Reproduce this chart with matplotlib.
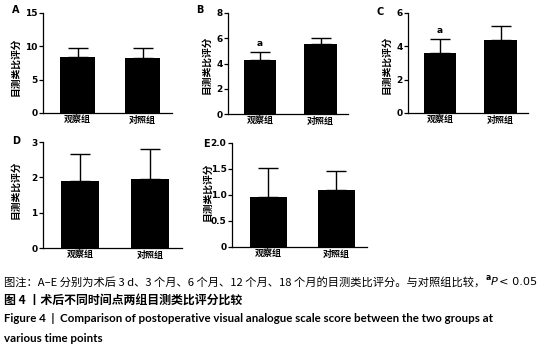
import matplotlib
matplotlib.use("Agg")
import matplotlib.pyplot as plt

plt.rcParams['font.family'] = ['Noto Sans CJK SC', 'DejaVu Sans']

groups = ['观察组', '对照组']
panels = ['A', 'B', 'C', 'D', 'E']
means = {
    'A': [8.4, 8.25],
    'B': [4.29, 5.56],
    'C': [3.6, 4.38],
    'D': [1.9, 1.96],
    'E': [0.97, 1.10],
}
sds = {
    'A': [1.35, 1.5],
    'B': [0.61, 0.45],
    'C': [0.84, 0.86],
    'D': [0.76, 0.85],
    'E': [0.54, 0.36],
}
ymax = {'A': 15, 'B': 8, 'C': 6, 'D': 3, 'E': 2.0}
yticks = {
    'A': [0, 5, 10, 15],
    'B': [0, 2, 4, 6, 8],
    'C': [0, 2, 4, 6],
    'D': [0, 1, 2, 3],
    'E': [0, 0.5, 1.0, 1.5, 2.0],
}
ytick_labels = {
    'E': ['0', '0.5', '1.0', '1.5', '2.0'],
}
sig_marks = {'B': ['a', ''], 'C': ['a', '']}

W, H = 555, 352
fig = plt.figure(figsize=(W / 100, H / 100), dpi=100)

# pixel boxes: left, right, top, bottom
boxes = {
    'A': (43, 172, 13, 113),
    'B': (228, 348, 13, 114),
    'C': (408, 528, 13, 113),
    'D': (43, 182, 142, 248),
    'E': (232, 367, 143, 247),
}
label_pos = {'A': (12, 10), 'B': (196, 10), 'C': (377, 12), 'D': (12, 141), 'E': (203, 144)}
ylab_pos = {'A': (15, 67), 'B': (206, 65), 'C': (386, 65), 'D': (15, 190), 'E': (207, 192)}

for p in panels:
    l, r, t, b = boxes[p]
    ax = fig.add_axes([l / W, 1 - b / H, (r - l) / W, (b - t) / H])
    x = [0, 1]
    ax.bar(x, means[p], width=0.54, color='black', zorder=2)
    ax.errorbar(x, means[p], yerr=[[0, 0], sds[p]], fmt='none', ecolor='black',
                elinewidth=1.0, capsize=7, capthick=1.0, zorder=1)
    if p in sig_marks:
        for xi, m, s, txt in zip(x, means[p], sds[p], sig_marks[p]):
            if txt:
                ax.text(xi, m + s + ymax[p] * 0.04, txt, ha='center', va='bottom',
                        fontsize=6.5, family='DejaVu Sans', fontweight='bold')
    ax.set_xlim(-0.53, 1.45)
    ax.set_ylim(0, ymax[p])
    ax.set_yticks(yticks[p])
    if p in ytick_labels:
        ax.set_yticklabels(ytick_labels[p])
    ax.set_xticks(x)
    ax.set_xticklabels(groups, fontsize=6.5, fontweight='bold')
    for s in ['top', 'right']:
        ax.spines[s].set_visible(False)
    for s in ['left', 'bottom']:
        ax.spines[s].set_linewidth(0.9)
    ax.tick_params(axis='y', labelsize=6.5, length=3, width=0.9, pad=1)
    ax.tick_params(axis='x', length=0, pad=2)
    for lab in ax.get_yticklabels():
        lab.set_fontweight('bold')
        lab.set_family('DejaVu Sans')
    lx, ly = label_pos[p]
    fig.text(lx / W, 1 - ly / H, p, fontsize=7, fontweight='bold',
             ha='left', va='center', family='DejaVu Sans')
    yx, yy = ylab_pos[p]
    fig.text(yx / W, 1 - yy / H, '目测类比评分', fontsize=7, rotation=90,
             ha='center', va='center', fontweight='bold')

# captions
line1 = fig.text(4 / W, 1 - 282 / H,
                 '图注：A–E 分别为术后 3 d、3 个月、6 个月、12 个月、18 个月的目测类比评分。与对照组比较，',
                 fontsize=8.1, ha='left', va='center')
fig.canvas.draw()
rend = fig.canvas.get_renderer()
bb = line1.get_window_extent(rend)
x0 = bb.x1 / W
sup = fig.text(x0, 1 - 278 / H, 'a', fontsize=5.5, ha='left', va='center',
               family='DejaVu Sans', fontweight='bold')
bb2 = sup.get_window_extent(rend)
pt = fig.text(bb2.x1 / W, 1 - 282 / H, 'P', fontsize=8.1, ha='left', va='center',
              family='DejaVu Sans', style='italic')
bb3 = pt.get_window_extent(rend)
fig.text(bb3.x1 / W + 0.004, 1 - 282 / H, '< 0.05', fontsize=8.1, ha='left', va='center',
         family='DejaVu Sans')

fig.text(4 / W, 1 - 300 / H, '图 4 丨术后不同时间点两组目测类比评分比较',
         fontsize=8.6, fontweight='bold', ha='left', va='center')
fig.text(4 / W, 1 - 318 / H,
         'Figure 4  |  Comparison of postoperative visual analogue scale score between the two groups at',
         fontsize=8.3, fontweight='bold', ha='left', va='center', family='Lato')
fig.text(4 / W, 1 - 338 / H, 'various time points',
         fontsize=8.3, fontweight='bold', ha='left', va='center', family='Lato')

fig.savefig('out.png', dpi=100)
